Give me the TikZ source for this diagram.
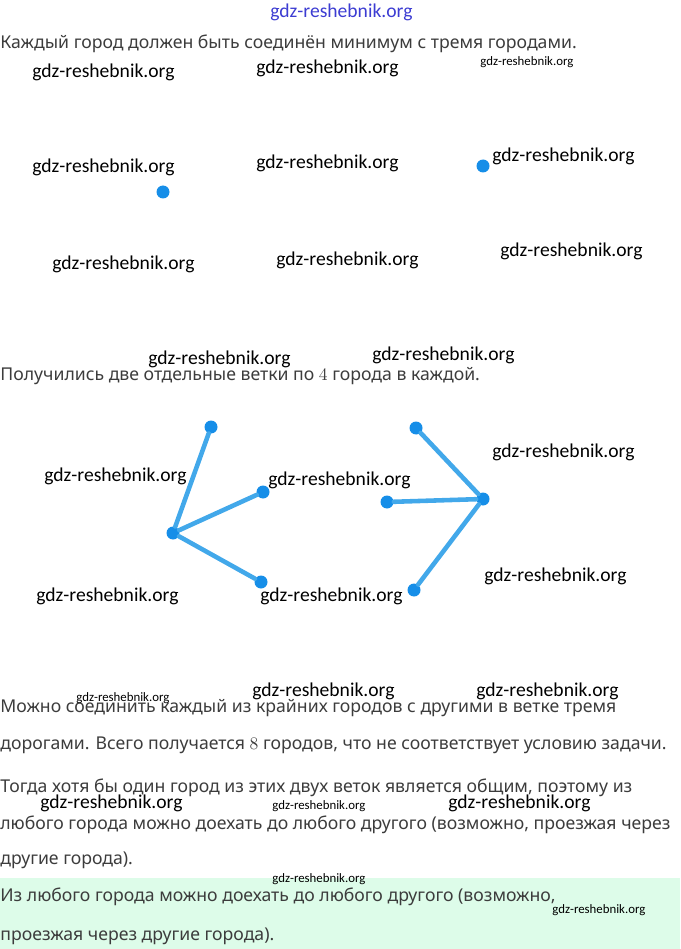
\documentclass[tikz,border=0pt]{standalone}
\usepackage{fontspec}
\setmainfont{Noto Sans}
\newfontfamily\wmfont{Carlito}
\usetikzlibrary{positioning}
\definecolor{ctxt}{RGB}{60,60,60}
\definecolor{cdot}{RGB}{22,142,232}
\definecolor{croad}{RGB}{66,168,234}
\definecolor{cgreen}{RGB}{221,252,233}
\definecolor{cwm}{RGB}{60,60,210}

\begin{document}
\begin{tikzpicture}[x=0.02cm, y=-0.02cm,
  txt/.style={anchor=west, inner sep=0pt, text=ctxt,
              font=\fontsize{10.05}{12}\selectfont},
  wm/.style={anchor=west, inner sep=0pt, font=\wmfont\fontsize{11.15}{13}\selectfont},
  wms/.style={wm, font=\wmfont\fontsize{7.3}{8}\selectfont},
  city/.style={circle, fill=cdot, inner sep=0pt, minimum size=0.26cm},
  road/.style={draw=croad, line width=2.6pt, line cap=round}
]
\useasboundingbox (0,0) rectangle (680,949);

% answer box
\fill[cgreen] (0,878) rectangle (680,949);

% text
\node[txt] (t1) at (0,44)  {Каждый город должен быть соединён минимум с тремя городами.};
\node[txt] (t2) at (0,376) {Получились две отдельные ветки по $4$ города в каждой.};
\node[txt] (t3) at (0,708) {Можно соединить каждый из крайних городов с другими в ветке тремя};
\node[txt] (t4) at (0,745) {дорогами. Всего получается $8$ городов, что не соответствует условию задачи.};
\node[txt] (t5) at (0,788) {Тогда хотя бы один город из этих двух веток является общим, поэтому из};
\node[txt] (t6) at (0,825) {любого города можно доехать до любого другого (возможно, проезжая через};
\node[txt] (t7) at (0,860) {другие города).};
\node[txt] (t8) at (0,897) {Из любого города можно доехать до любого другого (возможно,};
\node[txt] (t9) at (0,936) {проезжая через другие города).};

% two cities
\node[city] (p) at (163,192) {};
\node[city] (q) at (483,166) {};

% left branch
\node[city] (a0) at (173,533) {};
\node[city] (a1) at (211,427) {};
\node[city] (a2) at (263,492) {};
\node[city] (a3) at (261,582) {};
% right branch
\node[city] (b0) at (483,499) {};
\node[city] (b1) at (416,428) {};
\node[city] (b2) at (387,502) {};
\node[city] (b3) at (414,590) {};

\foreach \k in {1,2,3} {
  \draw[road] (a0) -- (a\k);
  \draw[road] (b0) -- (b\k);
}

% watermarks
\node[wm, text=cwm] (wm0) at (270,12) {gdz-reshebnik.org};
\foreach \x/\y [count=\i] in {32/72, 256/68, 32/167, 256/163, 492/156,
    52/264, 276/260, 500/251, 148/359, 372/355, 44/476, 268/480, 492/452,
    36/596, 260/596, 484/576, 252/691, 476/691, 40/803, 448/803}
  \node[wm] (wm\i) at (\x,\y) {gdz-reshebnik.org};
\foreach \x/\y [count=\i] in {480/62, 76/698, 272/806, 272/879, 552/910}
  \node[wms] (ws\i) at (\x,\y) {gdz-reshebnik.org};

\end{tikzpicture}
\end{document}
